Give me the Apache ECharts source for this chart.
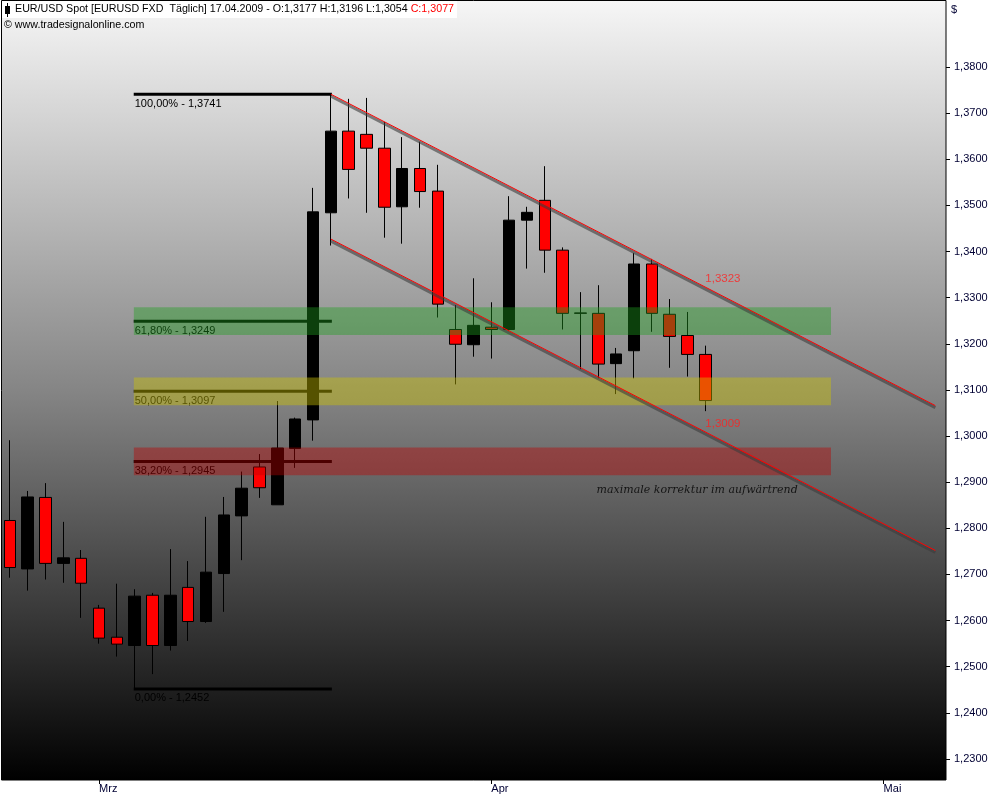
<!DOCTYPE html>
<html>
<head>
<meta charset="utf-8">
<script src="https://cdn.jsdelivr.net/npm/echarts@6/dist/echarts.min.js"></script>
<style>html,body{margin:0;padding:0;background:#fff;}#chart{width:1000px;height:800px;}</style>
</head>
<body>
<div id="chart"></div>
<script>
// ---------- data ----------
const dates = [
  '23.02.2009','24.02.2009','25.02.2009','26.02.2009','27.02.2009',
  '02.03.2009','03.03.2009','04.03.2009','05.03.2009','06.03.2009','09.03.2009','10.03.2009','11.03.2009','12.03.2009','13.03.2009',
  '16.03.2009','17.03.2009','18.03.2009','19.03.2009','20.03.2009','23.03.2009','24.03.2009','25.03.2009','26.03.2009','27.03.2009','30.03.2009','31.03.2009',
  '01.04.2009','02.04.2009','03.04.2009','06.04.2009','07.04.2009','08.04.2009','09.04.2009','10.04.2009','13.04.2009','14.04.2009','15.04.2009','16.04.2009','17.04.2009',
  '20.04.2009','21.04.2009','22.04.2009','23.04.2009','24.04.2009','27.04.2009','28.04.2009','29.04.2009','30.04.2009',
  '01.05.2009','04.05.2009','05.05.2009','06.05.2009'
];
const monthLabels = { '02.03.2009': 'Mrz', '01.04.2009': 'Apr', '01.05.2009': 'Mai' };

const opens  = [1.2817,1.2712,1.2867,1.2724,1.2735,1.2627,1.2564,1.2546,1.2655,1.2546,1.2672,1.2598,1.2702,1.2827,1.2933,1.2851,1.2973,1.3035,1.3484,1.3661,1.3654,1.3624,1.3497,1.3580,1.3531,1.3231,1.3198,1.3236,1.3231,1.3468,1.3511,1.3403,1.3266,1.3266,1.3157,1.3185,1.3373,1.3264,1.3218,1.3177];
const closes = [1.2715,1.2868,1.2724,1.2736,1.2681,1.2562,1.2549,1.2653,1.2546,1.2655,1.2598,1.2705,1.2829,1.2887,1.2888,1.2974,1.3037,1.3486,1.3661,1.3578,1.3624,1.3496,1.3580,1.3530,1.3286,1.3199,1.3240,1.3231,1.3468,1.3485,1.3403,1.3266,1.3267,1.3156,1.3178,1.3373,1.3266,1.3216,1.3177,1.3077];
const lows   = [1.2693,1.2665,1.2689,1.2682,1.2606,1.2550,1.2522,1.2452,1.2484,1.2535,1.2556,1.2595,1.2619,1.2731,1.2866,1.2851,1.2931,1.2990,1.3413,1.3515,1.3484,1.3430,1.3417,1.3495,1.3257,1.3112,1.3172,1.3168,1.3228,1.3363,1.3354,1.3231,1.3145,1.3125,1.3091,1.3125,1.3226,1.3148,1.3129,1.3054];
const highs  = [1.2991,1.2881,1.2898,1.2814,1.2753,1.2634,1.2680,1.2668,1.2660,1.2755,1.2729,1.2825,1.2868,1.2923,1.2961,1.3076,1.3040,1.3538,1.3741,1.3731,1.3733,1.3681,1.3648,1.3638,1.3588,1.3284,1.3342,1.3290,1.3520,1.3497,1.3585,1.3409,1.3312,1.3327,1.3191,1.3397,1.3384,1.3297,1.3269,1.3196];

const fibLevels = [1.3741, 1.3249, 1.3097, 1.2945, 1.2452];
const fibLabels = ['100,00% - 1,3741', '61,80% - 1,3249', '50,00% - 1,3097', '38,20% - 1,2945', '0,00% - 1,2452'];
const fibRange  = [7, 18];              // bar index span of the Fibonacci lines
const bandLevels = [1.3249, 1.3097, 1.2945];
const bandHalf   = 0.003;
const bandRange  = [6.95, 46.05];

// trend channel: [x0, y0, x1, y1] in bar index / price
const channelUpper = [18, 1.3741, 51.9, 1.3066];
const channelLower = [18, 1.3427, 51.9, 1.2752];
const channelMarks = [[39, 1.3323], [39, 1.3009]];
const channelMarkLabels = ['1,3323', '1,3009'];

const noteAnchor = [[32.9, 1.2887]];
const noteText = 'maximale korrektur im aufwärtrend';

const yTicks = { min: 1.23, max: 1.38, interval: 0.01 };

// ---------- styles ----------
const bandColors = ['rgba(30,160,30,0.40)', 'rgba(205,195,0,0.42)', 'rgba(190,0,0,0.40)'];
const axisFont = 'Liberation Sans';

const candleData = opens.map((o, i) => [o, closes[i], lows[i], highs[i]]);

const chart = echarts.init(document.getElementById('chart'), null, { renderer: 'canvas' });

const GRID = { left: 1, right: 54, top: 67, bottom: 41 };

const option = {
  animation: false,
  backgroundColor: '#ffffff',
  graphic: [
    { type: 'rect', z: -10, silent: true,
      shape: { x: 1.5, y: 0.5, width: 944.5, height: 779.5 },
      style: { fill: new echarts.graphic.LinearGradient(0, 0, 0, 1, [
        { offset: 0, color: '#f6f6f6' }, { offset: 0.5, color: '#858585' }, { offset: 1, color: '#000000' }]),
        stroke: '#000', lineWidth: 1 } },
    { type: 'rect', z: -9, silent: true, shape: { x: 2, y: 1, width: 455, height: 17 }, style: { fill: '#ffffff' } },
    { type: 'line', z: 20, silent: true, shape: { x1: 7.5, y1: 3, x2: 7.5, y2: 17 }, style: { stroke: '#000', lineWidth: 1 } },
    { type: 'rect', z: 20, silent: true, shape: { x: 5, y: 6, width: 5, height: 8 }, style: { fill: '#000' } },
    { type: 'text', z: 20, left: 15, top: 4, silent: true,
      style: { text: '{a|EUR/USD Spot [EURUSD FXD  Täglich] 17.04.2009 - O:1,3177 H:1,3196 L:1,3054 }{b|C:1,3077}',
        rich: { a: { fill: '#000', fontFamily: axisFont, fontSize: 10.7 }, b: { fill: '#ff0000', fontFamily: axisFont, fontSize: 10.7 } } } },
    { type: 'text', z: 20, left: 4, top: 20, silent: true,
      style: { text: '© www.tradesignalonline.com', fill: '#000', font: '10.7px "Liberation Sans"' } },
    { type: 'text', z: 20, left: 951, top: 4, silent: true,
      style: { text: '$', fill: '#000033', font: '11px "Liberation Sans"' } }
  ],
  grid: GRID,
  xAxis: [
    { type: 'category', data: dates, boundaryGap: true, offset: 21,
      axisLine: { show: false, onZero: false },
      axisTick: { show: true, alignWithLabel: true, length: 4, lineStyle: { color: '#000' },
        interval: (idx, val) => !!monthLabels[val] },
      axisLabel: { interval: (idx, val) => !!monthLabels[val], formatter: v => monthLabels[v] || '',
        align: 'left', margin: 3, color: '#000033', fontFamily: axisFont, fontSize: 11 },
      splitLine: { show: false } },
    { type: 'value', min: -0.5, max: dates.length - 0.5, show: false,
      axisLine: { show: false, onZero: false } }
  ],
  yAxis: [{
    type: 'value', position: 'right', min: yTicks.min, max: yTicks.max, interval: yTicks.interval,
    axisLine: { show: false, onZero: false },
    axisTick: { show: true, length: 4, lineStyle: { color: '#000' } },
    axisLabel: { margin: 8, color: '#000033', fontFamily: axisFont, fontSize: 11,
      formatter: v => v.toFixed(4).replace('.', ',') },
    splitLine: { show: false }
  }],
  series: [
    { type: 'candlestick', xAxisIndex: 0, yAxisIndex: 0, data: candleData, barWidth: 12, z: 2,
      itemStyle: { color: '#000000', color0: '#ff0000', borderColor: '#000000', borderColor0: '#000000', borderWidth: 1 } },
    { type: 'custom', xAxisIndex: 1, yAxisIndex: 0, z: 3, silent: true,
      data: fibLevels.map((v, i) => [i, v]),
      renderItem: (params, api) => {
        const lvl = api.value(1);
        const a = api.coord([fibRange[0], lvl]);
        const b = api.coord([fibRange[1], lvl]);
        return { type: 'group', children: [
          { type: 'line', shape: { x1: a[0] - 1, y1: a[1], x2: b[0] + 1, y2: b[1] }, style: { stroke: '#000', lineWidth: 3 } },
          { type: 'text', x: a[0], y: a[1] + 4, style: { text: fibLabels[params.dataIndex], fill: '#000',
            font: '11px "Liberation Sans"', textAlign: 'left', textVerticalAlign: 'top' } }
        ] };
      } },
    { type: 'custom', xAxisIndex: 1, yAxisIndex: 0, z: 5, silent: true,
      data: bandLevels.map((v, i) => [i, v]),
      renderItem: (params, api) => {
        const lvl = api.value(1);
        const a = api.coord([bandRange[0], lvl + bandHalf]);
        const b = api.coord([bandRange[1], lvl - bandHalf]);
        return { type: 'rect', shape: { x: a[0], y: a[1], width: b[0] - a[0], height: b[1] - a[1] },
          style: { fill: bandColors[params.dataIndex] } };
      } },
    { type: 'custom', xAxisIndex: 1, yAxisIndex: 0, z: 6, silent: true,
      data: [channelUpper, channelLower],
      renderItem: (params, api) => {
        const a = api.coord([api.value(0), api.value(1)]);
        const b = api.coord([api.value(2), api.value(3)]);
        return { type: 'group', children: [
          { type: 'line', shape: { x1: a[0], y1: a[1] + 2, x2: b[0], y2: b[1] + 2 }, style: { stroke: 'rgba(60,60,60,0.6)', lineWidth: 3 } },
          { type: 'line', shape: { x1: a[0], y1: a[1], x2: b[0], y2: b[1] }, style: { stroke: '#ff0000', lineWidth: 1 } }
        ] };
      } },
    { type: 'scatter', xAxisIndex: 1, yAxisIndex: 0, z: 7, silent: true, symbolSize: 0,
      data: channelMarks,
      label: { show: true, position: [0, -14], formatter: p => channelMarkLabels[p.dataIndex],
        color: '#ff2020', fontFamily: axisFont, fontSize: 11.5 } },
    { type: 'scatter', xAxisIndex: 1, yAxisIndex: 0, z: 7, silent: true, symbolSize: 0,
      data: noteAnchor,
      label: { show: true, position: [0, -4], formatter: noteText,
        color: '#000', fontFamily: 'DejaVu Serif', fontStyle: 'italic', fontSize: 11 } }
  ]
};
chart.setOption(option);
</script>
</body>
</html>
